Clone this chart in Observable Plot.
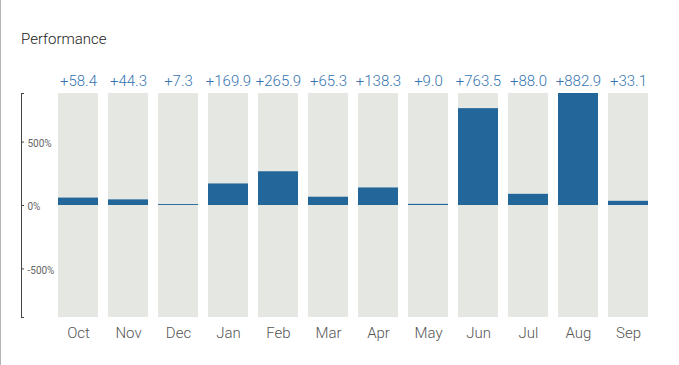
<!DOCTYPE html>
<html>
<head>
<meta charset="utf-8">
<script src="https://cdn.jsdelivr.net/npm/d3@7"></script>
<script src="https://cdn.jsdelivr.net/npm/@observablehq/plot@0.6"></script>
<style>
  html, body { margin: 0; padding: 0; background: #fff; }
  #wrap { position: relative; width: 678px; height: 365px; border-left: 1px solid #b5b5b5; font-family: Roboto, sans-serif; overflow: hidden; }
  #title { height: 60px; box-sizing: border-box; padding: 32px 0 0 20px; font-size: 15px; font-weight: 300; color: #222; line-height: 15px; }
  svg { display: block; }
</style>
</head>
<body>
<div id="wrap">
  <div id="title">Performance</div>
  <div id="chart"></div>
</div>
<script>
const months = ["Oct","Nov","Dec","Jan","Feb","Mar","Apr","May","Jun","Jul","Aug","Sep"];
const values = [58.4, 44.3, 7.3, 169.9, 265.9, 65.3, 138.3, 9.0, 763.5, 88.0, 882.9, 33.1];
const yTicks = [-500, 0, 500];

const data = months.map((m, i) => ({month: m, value: values[i]}));
const yMax = d3.max(values);
const yMin = -yMax;

const chart = Plot.plot({
  width: 678,
  height: 305,
  marginTop: 33,
  marginBottom: 48,
  marginLeft: 20,
  marginRight: 25,
  style: {fontFamily: "Roboto, sans-serif", background: "#fff"},
  x: {domain: months, range: [52, 652], paddingInner: 0.2, paddingOuter: 0.1},
  y: {domain: [yMin, yMax]},
  marks: [
    Plot.barY(months, {x: d => d, y1: yMin, y2: yMax, fill: "#e5e7e2"}),
    Plot.barY(data, {x: "month", y: "value", fill: "#236699"}),
    Plot.text(data, {x: "month", frameAnchor: "top", lineAnchor: "bottom", dy: -8, text: d => "+" + d.value.toFixed(1), fill: "#3574b0", fontSize: 15, fontWeight: 300}),
    Plot.axisX({tickSize: 0, tickPadding: 10, fontSize: 15, fontWeight: 300, color: "#555", label: null}),
    Plot.frame({anchor: "left", stroke: "#444"}),
    Plot.axisY({ticks: [yMin, yMax, ...yTicks], tickSize: -3, text: null, stroke: "#444", label: null}),
    Plot.axisY({ticks: yTicks, tickSize: 0, tickPadding: -6, dy: 1.5, textAnchor: "start", tickFormat: d => d + "%", fontSize: 10, fill: "#666", label: null})
  ]
});
document.getElementById("chart").appendChild(chart);
</script>
</body>
</html>
